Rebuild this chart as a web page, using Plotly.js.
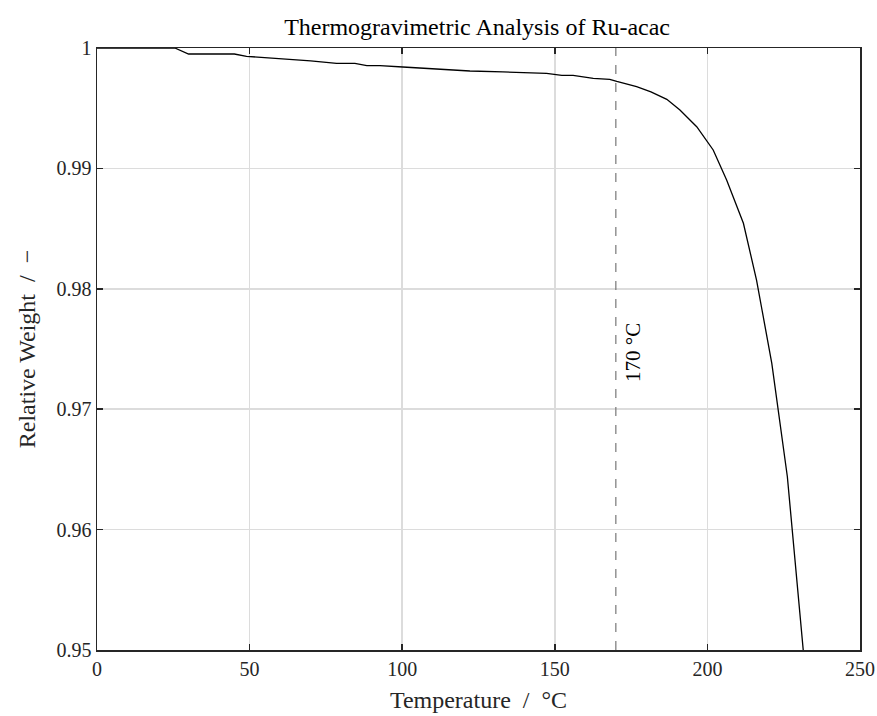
<!DOCTYPE html>
<html><head><meta charset="utf-8">
<script src="https://cdn.plot.ly/plotly-3.0.1.min.js"></script>
<style>html,body{margin:0;padding:0;background:#fff}</style>
</head><body>
<div id="chart" style="width:877px;height:716px"></div>
<script>
const temperature = [0, 10, 20, 25.5, 30, 45, 49, 60, 70, 78.5, 84.5, 88.4, 92.7, 100.2, 113.4, 122.2, 133, 147.3, 152.3, 156, 162.6, 168, 170.3, 176.8, 181.5, 186.7, 191, 196.5, 201.9, 206.3, 211.8, 216.1, 221.1, 226.2, 231.4];
const weight = [1, 1, 1, 1, 0.9995, 0.9995, 0.99931, 0.99912, 0.99893, 0.99873, 0.99873, 0.99853, 0.99853, 0.99842, 0.99823, 0.99809, 0.99801, 0.99789, 0.99773, 0.99773, 0.99748, 0.9974, 0.99723, 0.99679, 0.99635, 0.99574, 0.99485, 0.99346, 0.99153, 0.98904, 0.98544, 0.98073, 0.97381, 0.96439, 0.95];
const xTicks = [0, 50, 100, 150, 200, 250];
const yTicks = [0.95, 0.96, 0.97, 0.98, 0.99, 1];
const yTickText = ["0.95", "0.96", "0.97", "0.98", "0.99", "1"];
const markerTemp = 170;
const markerLabel = "170 °C";

const font = "Liberation Serif, DejaVu Serif, serif";
const traces = [
  {x: [markerTemp, markerTemp], y: [0.95, 1], mode: "lines", line: {color: "#777", width: 1.2, dash: "dash"}, hoverinfo: "skip", showlegend: false},
  {x: temperature, y: weight, mode: "lines", line: {color: "#000", width: 1.3}, showlegend: false}
];
const axisCommon = {
  showline: true, mirror: "ticks", linecolor: "#262626", linewidth: 1.5,
  ticks: "inside", ticklen: 6, tickwidth: 1.5, tickcolor: "#262626",
  showgrid: true, gridcolor: "#dcdcdc", gridwidth: 1.5, zeroline: false,
  tickfont: {family: font, size: 20, color: "#262626"}
};
const layout = {
  width: 877, height: 716,
  margin: {l: 97, r: 17, t: 48, b: 66},
  paper_bgcolor: "#fff", plot_bgcolor: "#fff",
  title: {text: "Thermogravimetric Analysis of Ru-acac", font: {family: font, size: 24, color: "#000"}, x: 0.544, xanchor: "center", xref: "container", y: 1 - 27/716, yanchor: "middle", yref: "container"},
  xaxis: Object.assign({}, axisCommon, {range: [0, 250], tickvals: xTicks, ticktext: xTicks.map(String),
    title: {text: "Temperature  /  °C", font: {family: font, size: 24, color: "#262626"}, standoff: 12}}),
  yaxis: Object.assign({}, axisCommon, {range: [0.95, 1], tickvals: yTicks, ticktext: yTickText,
    title: {text: "Relative Weight  /  −", font: {family: font, size: 24, color: "#262626"}, standoff: 14}}),
  annotations: [{x: 175.6, y: 0.97475, xref: "x", yref: "y", text: markerLabel, textangle: -90, showarrow: false,
    font: {family: font, size: 21, color: "#000"}}]
};
Plotly.newPlot("chart", traces, layout, {displayModeBar: false, staticPlot: true});
</script>
</body></html>
